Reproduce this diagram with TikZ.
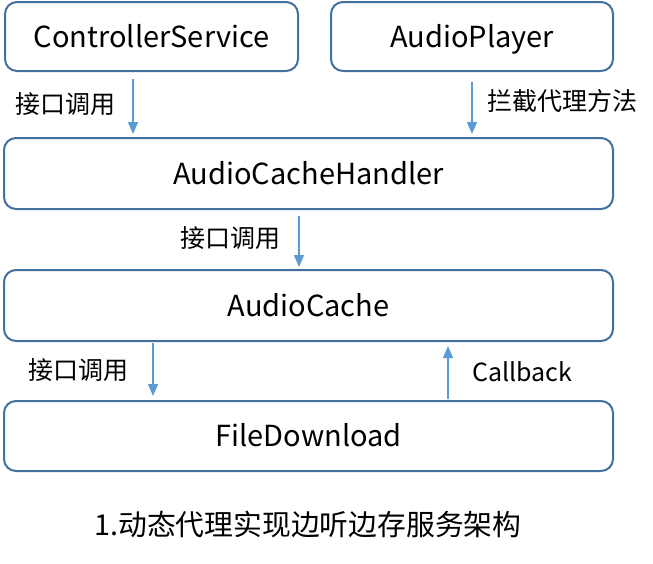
\documentclass[tikz,border=0pt]{standalone}
\usepackage{fontspec}
\setmainfont{Noto Sans CJK SC}
\usetikzlibrary{arrows.meta}
\definecolor{boxline}{HTML}{41719C}
\definecolor{arrline}{HTML}{5B9BD5}
\tikzset{
  box/.style={draw=boxline, line width=2pt, rounded corners=12pt, fill=white,
    font=\fontsize{29}{32}\selectfont, inner sep=0pt, text height=21pt, text depth=0pt},
  arr/.style={draw=arrline, line width=1.3pt, -{Triangle[length=12pt,width=10pt]}},
  lbl/.style={font=\fontsize{25}{28}\selectfont, inner sep=0pt},
  captext/.style={font=\fontsize{28.8}{32}\selectfont, inner sep=0pt}
}
\begin{document}
\begin{tikzpicture}[x=1pt,y=-1pt]
\useasboundingbox (0,0) rectangle (653,563);
\node[box, minimum width=293pt, minimum height=69pt] (cs) at (151.5,36.5) {ControllerService};
\node[box, minimum width=282pt, minimum height=69pt] (ap) at (472,36.5) {AudioPlayer};
\node[box, minimum width=609pt, minimum height=71pt] (ach) at (308.5,173.5) {AudioCacheHandler};
\node[box, minimum width=609pt, minimum height=71pt] (ac) at (308.5,305.5) {AudioCache};
\node[box, minimum width=609pt, minimum height=70pt] (fd) at (308.5,436) {FileDownload};

\node[lbl] (l1) at (65,104) {接口调用};
\node[lbl] (l2) at (562,101) {拦截代理方法};
\node[lbl] (l3) at (230,238) {接口调用};
\node[lbl] (l4) at (78,370) {接口调用};
\node[lbl] (l5) at (522,372) {Callback};
\node[captext] (c) at (308,524) {1.动态代理实现边听边存服务架构};

\draw[arr, shorten <=7pt, shorten >=3pt] (cs.south -| 133,0) -- (ach.north -| 133,0);
\draw[arr, shorten <=10pt, shorten >=3pt] (ap.south -| 472,0) -- (ach.north -| 472,0);
\draw[arr, shorten <=6pt, shorten >=2pt] (ach.south -| 299,0) -- (ac.north -| 299,0);
\draw[arr, shorten <=1pt, shorten >=4pt] (ac.south -| 153,0) -- (fd.north -| 153,0);
\draw[arr, shorten <=1pt, shorten >=4pt] (fd.north -| 448,0) -- (ac.south -| 448,0);
\end{tikzpicture}
\end{document}
